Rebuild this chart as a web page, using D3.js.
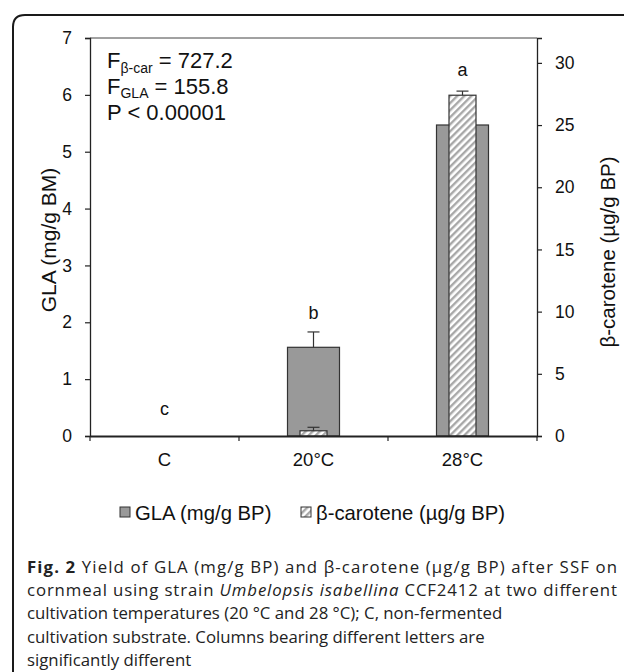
<!DOCTYPE html>
<html>
<head>
<meta charset="utf-8">
<script src="https://cdn.jsdelivr.net/npm/d3@7"></script>
<style>
  html, body { margin: 0; padding: 0; background: #fff; }
  svg { display: block; }
</style>
</head>
<body>
<svg id="chart" width="624" height="672"></svg>
<script>
// data
var categories = ['C', '20°C', '28°C'];
var glaValues  = [0, 1.56, 5.47];
var glaErrors  = [0, 0.27, 0];
var betaValues = [0, 0.42, 27.4];
var betaErrors = [0, 0.28, 0.33];
var letters    = ['c', 'b', 'a'];
var letterAt   = [0.37, 2.05, 6.34];   // letter baseline, in GLA units
var glaTicks   = [0, 1, 2, 3, 4, 5, 6, 7];
var betaTicks  = [0, 5, 10, 15, 20, 25, 30];
var captionLines = [
  ['Fig. 2', ' Yield of GLA (mg/g BP) and β-carotene (μg/g BP) after SSF on'],
  ['', 'cornmeal using strain ', 'Umbelopsis isabellina', ' CCF2412 at two different'],
  ['', 'cultivation temperatures (20 °C and 28 °C); C, non-fermented'],
  ['', 'cultivation substrate. Columns bearing different letters are'],
  ['', 'significantly different']
];
var captionEnds = [617, 617, 0, 0, 0];   // right end of full lines, 0 = natural

var svg = d3.select('#chart');
var font = 'Liberation Sans, Arial, sans-serif';

var plotLeft = 90, plotRight = 537, plotTop = 38, plotBottom = 436;

var x = d3.scaleBand().domain(categories).range([plotLeft, plotRight]).padding(0);
var yGla = d3.scaleLinear().domain([0, 7]).range([plotBottom, plotTop]);
var yBeta = d3.scaleLinear().domain([0, 32]).range([plotBottom, plotTop]);

// hatch for beta-carotene
var defs = svg.append('defs');
var pat = defs.append('pattern')
  .attr('id', 'hatch')
  .attr('patternUnits', 'userSpaceOnUse')
  .attr('width', 5).attr('height', 5)
  .attr('patternTransform', 'rotate(45)');
pat.append('rect').attr('width', 5).attr('height', 5).attr('fill', '#fff');
pat.append('rect').attr('width', 2.4).attr('height', 5).attr('fill', '#a8a8a8');

// figure frame (top + left with rounded corner)
svg.append('path')
  .attr('d', 'M13,672 L13,27 Q13,15 25,15 L624,15')
  .attr('fill', 'none').attr('stroke', '#1a1a1a').attr('stroke-width', 2);

var g = svg.append('g');

// GLA bars
g.selectAll('rect.gla')
  .data(categories)
  .enter().append('rect')
  .attr('class', 'gla')
  .attr('x', (d) => x(d) + x.bandwidth() / 2 - 26)
  .attr('width', 52)
  .attr('y', (d, i) => yGla(glaValues[i]))
  .attr('height', (d, i) => plotBottom - yGla(glaValues[i]))
  .attr('fill', '#999999')
  .attr('stroke', '#333')
  .attr('stroke-width', 1.2)
  .style('display', (d, i) => glaValues[i] > 0 ? null : 'none');

// GLA error bars
categories.forEach(function(c, i) {
  if (glaErrors[i] <= 0) return;
  var cx = x(c) + x.bandwidth() / 2;
  var yt = yGla(glaValues[i] + glaErrors[i]);
  g.append('line').attr('x1', cx).attr('x2', cx)
    .attr('y1', yGla(glaValues[i])).attr('y2', yt)
    .attr('stroke', '#333').attr('stroke-width', 1.2);
  g.append('line').attr('x1', cx - 6).attr('x2', cx + 6)
    .attr('y1', yt).attr('y2', yt)
    .attr('stroke', '#333').attr('stroke-width', 1.2);
});

// beta bars
g.selectAll('rect.beta')
  .data(categories)
  .enter().append('rect')
  .attr('class', 'beta')
  .attr('x', (d) => x(d) + x.bandwidth() / 2 - 13.5)
  .attr('width', 27)
  .attr('y', (d, i) => yBeta(betaValues[i]))
  .attr('height', (d, i) => plotBottom - yBeta(betaValues[i]))
  .attr('fill', 'url(#hatch)')
  .attr('stroke', '#333')
  .attr('stroke-width', 1.2)
  .style('display', (d, i) => betaValues[i] > 0 ? null : 'none');

categories.forEach(function(c, i) {
  if (betaErrors[i] <= 0) return;
  var cx = x(c) + x.bandwidth() / 2;
  var yt = yBeta(betaValues[i] + betaErrors[i]);
  g.append('line').attr('x1', cx).attr('x2', cx)
    .attr('y1', yBeta(betaValues[i])).attr('y2', yt)
    .attr('stroke', '#333').attr('stroke-width', 1.2);
  g.append('line').attr('x1', cx - 6).attr('x2', cx + 6)
    .attr('y1', yt).attr('y2', yt)
    .attr('stroke', '#333').attr('stroke-width', 1.2);
});

// significance letters
g.selectAll('text.letter')
  .data(letters)
  .enter().append('text')
  .attr('x', (d, i) => x(categories[i]) + x.bandwidth() / 2)
  .attr('y', (d, i) => yGla(letterAt[i]))
  .attr('text-anchor', 'middle')
  .style('font-family', font).style('font-size', '18px').attr('fill', '#111')
  .text((d) => d);

// plot box top
g.append('line').attr('x1', plotLeft).attr('x2', plotRight).attr('y1', plotTop).attr('y2', plotTop)
  .attr('stroke', '#444').attr('stroke-width', 1);

// axes
var axisL = d3.axisLeft(yGla).tickValues(glaTicks).tickSize(5).tickPadding(13).tickFormat(d3.format('d'));
var axisR = d3.axisRight(yBeta).tickValues(betaTicks).tickSize(5).tickPadding(13).tickFormat(d3.format('d'));
var axisB = d3.axisBottom(x).tickSize(0).tickPadding(17);

var gL = svg.append('g').attr('transform', 'translate(' + plotLeft + ',0)').call(axisL);
var gR = svg.append('g').attr('transform', 'translate(' + plotRight + ',0)').call(axisR);
var gB = svg.append('g').attr('transform', 'translate(0,' + plotBottom + ')').call(axisB);

[gL, gR, gB].forEach(function(a) {
  a.select('.domain').attr('stroke', '#222').attr('stroke-width', 1.3);
  a.selectAll('.tick line').attr('stroke', '#222').attr('stroke-width', 1.2);
  a.selectAll('text').style('font-family', font).style('font-size', '17.5px').attr('fill', '#111');
});
gB.select('.domain').attr('stroke-width', 2);
gB.selectAll('text').style('font-size', '18.5px');

// boundary ticks on the category axis
var bounds = categories.map((d) => x(d)).concat([plotRight]);
svg.selectAll('line.xb')
  .data(bounds)
  .enter().append('line')
  .attr('x1', (d) => d).attr('x2', (d) => d)
  .attr('y1', plotBottom).attr('y2', plotBottom + 5)
  .attr('stroke', '#222').attr('stroke-width', 1.2);

// axis titles
svg.append('text')
  .attr('transform', 'translate(56,240) rotate(-90)')
  .attr('text-anchor', 'middle')
  .style('font-family', font).style('font-size', '21px').attr('fill', '#111')
  .text('GLA (mg/g BM)');

svg.append('text')
  .attr('transform', 'translate(615,252) rotate(-90)')
  .attr('text-anchor', 'middle')
  .style('font-family', font).style('font-size', '20.5px').attr('fill', '#111')
  .text('β-carotene (µg/g BP)');

// statistics annotation
var ann = svg.append('g').style('font-family', font).style('font-size', '22px').attr('fill', '#111');
var t1 = ann.append('text').attr('x', 107).attr('y', 68);
t1.append('tspan').text('F');
t1.append('tspan').attr('dy', 5).style('font-size', '14px').text('β-car');
t1.append('tspan').attr('dy', -5).text(' = 727.2');
var t2 = ann.append('text').attr('x', 107).attr('y', 94);
t2.append('tspan').text('F');
t2.append('tspan').attr('dy', 4).style('font-size', '14px').text('GLA');
t2.append('tspan').attr('dy', -4).text(' = 155.8');
ann.append('text').attr('x', 107).attr('y', 120).text('P < 0.00001');

// legend
var leg = svg.append('g').style('font-family', font).style('font-size', '20.3px').attr('fill', '#111');
leg.append('rect').attr('x', 120).attr('y', 507).attr('width', 10).attr('height', 10)
  .attr('fill', '#999').attr('stroke', '#333').attr('stroke-width', 1);
leg.append('text').attr('x', 135).attr('y', 520).text('GLA (mg/g BP)');
leg.append('rect').attr('x', 301).attr('y', 507).attr('width', 10).attr('height', 10)
  .attr('fill', 'url(#hatch)').attr('stroke', '#333').attr('stroke-width', 1);
leg.append('text').attr('x', 316).attr('y', 520).text('β-carotene (µg/g BP)');

// caption
var capX = 27;
var cap = svg.append('g').style('font-family', 'Open Sans, Noto Sans, sans-serif')
  .style('font-size', '16.8px').attr('fill', '#222');
captionLines.forEach(function(parts, i) {
  var t = cap.append('text').attr('x', capX).attr('y', 573 + i * 23.2);
  parts.forEach(function(p, j) {
    if (!p) return;
    var s = t.append('tspan').text(p);
    if (i === 0 && j === 0) s.style('font-weight', 'bold');
    if (i === 1 && j === 2) s.style('font-style', 'italic');
  });
  if (captionEnds[i]) {
    t.attr('textLength', captionEnds[i] - capX).attr('lengthAdjust', 'spacing');
  }
});
</script>
</body>
</html>
